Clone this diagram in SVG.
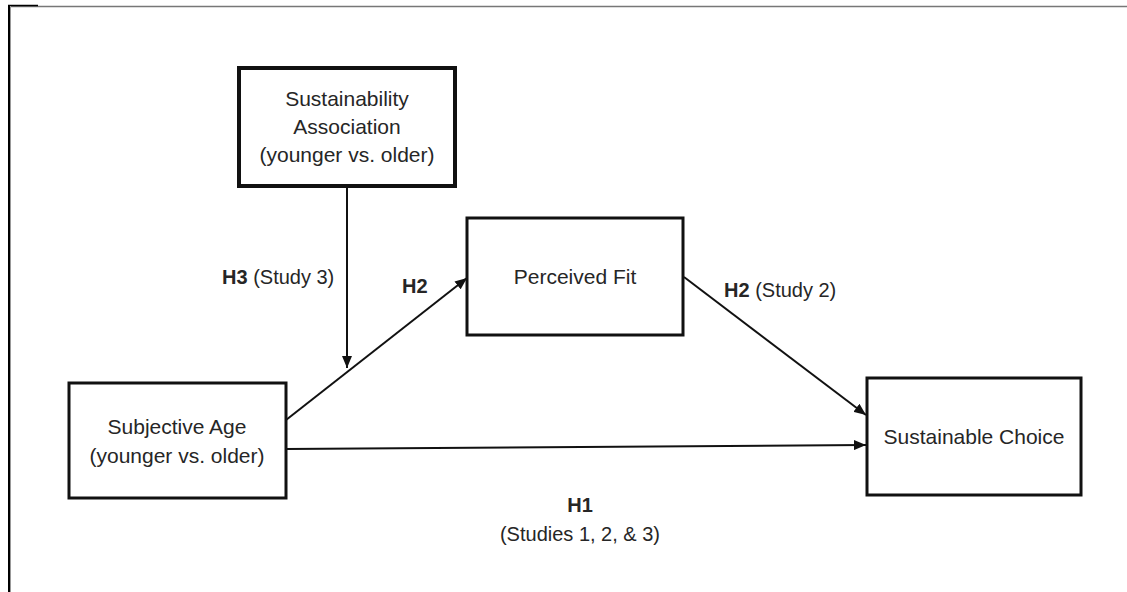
<svg xmlns="http://www.w3.org/2000/svg" width="1127" height="592" viewBox="0 0 1127 592">
<style>
.box{fill:#fff;stroke:#111;stroke-width:3}
.t{font-family:"Liberation Sans",Arial,sans-serif;font-size:21px;fill:#262626;text-anchor:middle}
.l{font-family:"Liberation Sans",Arial,sans-serif;font-size:20px;fill:#262626}
.b{font-weight:bold}
.c{stroke:#111;stroke-width:2;fill:none}
</style>
<defs>
<marker id="ah" viewBox="0 0 12 10" refX="12" refY="5" markerWidth="12" markerHeight="10" markerUnits="userSpaceOnUse" orient="auto">
<path d="M0,0 L12,5 L0,10 Z" fill="#111"/>
</marker>
</defs>
<rect width="1127" height="592" fill="#fff"/>
<g id="frame">
<line x1="10" y1="6.5" x2="1127" y2="6.5" stroke="#777" stroke-width="1.5"/>
<line x1="8" y1="5.5" x2="38" y2="5.5" stroke="#000" stroke-width="1.5"/>
<line x1="9" y1="5" x2="9" y2="592" stroke="#000" stroke-width="2"/>
<line x1="10.5" y1="6" x2="10.5" y2="592" stroke="#999" stroke-width="1"/>
</g>
<g id="connectors">
<line class="c" x1="347" y1="186" x2="347" y2="368" marker-end="url(#ah)"/>
<line class="c" x1="286" y1="420" x2="467" y2="278" marker-end="url(#ah)"/>
<line class="c" x1="684" y1="277" x2="866" y2="415" marker-end="url(#ah)"/>
<line class="c" x1="286" y1="449" x2="866" y2="445" marker-end="url(#ah)"/>
</g>
<g id="node-sustainability-association">
<rect class="box" x="239" y="68" width="216" height="118" style="stroke-width:4"/>
<text class="t" x="347" y="106">Sustainability</text>
<text class="t" x="347" y="134">Association</text>
<text class="t" x="347" y="162">(younger vs. older)</text>
</g>
<g id="node-perceived-fit">
<rect class="box" x="467" y="218" width="216" height="117"/>
<text class="t" x="575" y="284">Perceived Fit</text>
</g>
<g id="node-subjective-age">
<rect class="box" x="69" y="383" width="217" height="115"/>
<text class="t" x="177" y="434">Subjective Age</text>
<text class="t" x="177" y="463">(younger vs. older)</text>
</g>
<g id="node-sustainable-choice">
<rect class="box" x="867" y="378" width="214" height="117"/>
<text class="t" x="974" y="444">Sustainable Choice</text>
</g>
<g id="labels">
<text class="l" x="222" y="284"><tspan class="b">H3</tspan> (Study 3)</text>
<text class="l b" x="402" y="293">H2</text>
<text class="l" x="724" y="297"><tspan class="b">H2</tspan> (Study 2)</text>
<text class="l b" x="580" y="512" text-anchor="middle">H1</text>
<text class="l" x="580" y="541" text-anchor="middle">(Studies 1, 2, &amp; 3)</text>
</g>
</svg>
